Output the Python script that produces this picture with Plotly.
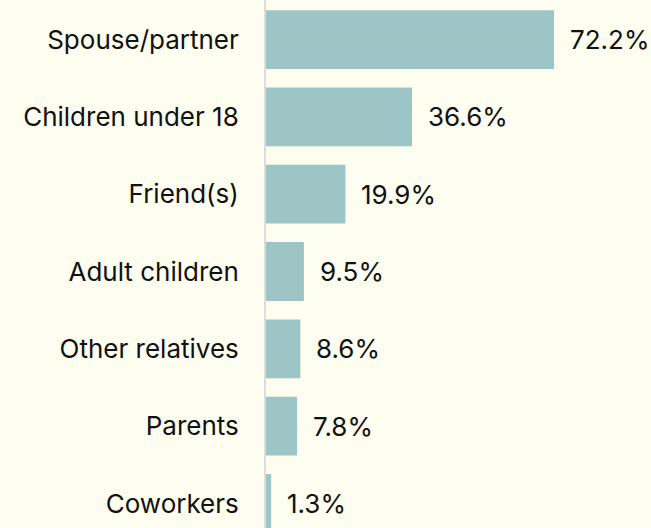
import plotly.graph_objects as go

categories = ["Spouse/partner", "Children under 18", "Friend(s)", "Adult children",
              "Other relatives", "Parents", "Coworkers"]
values = [72.2, 36.6, 19.9, 9.5, 8.6, 7.8, 1.3]
value_labels = [f"{v:.1f}%" for v in values]

BG = "#FDFEEF"
BAR = "#9EC5C5"
FONT = "Inter"
FS = 26

fig = go.Figure()
fig.add_trace(go.Bar(
    x=values, y=categories, orientation="h",
    marker=dict(color=BAR, line=dict(width=0)),
    width=0.76, hoverinfo="skip",
))
for c, v, t in zip(categories, values, value_labels):
    fig.add_annotation(x=v, y=c, text=t, showarrow=False, xanchor="left",
                       xshift=14, font=dict(family=FONT, size=FS, color="#111111"))

fig.update_layout(
    width=651, height=528,
    margin=dict(l=266, r=0, t=0, b=0),
    paper_bgcolor=BG, plot_bgcolor=BG,
    showlegend=False,
    font=dict(family=FONT, size=FS, color="#111111"),
    xaxis=dict(range=[0, 96.5], visible=False, fixedrange=True),
    yaxis=dict(type="category", categoryorder="array", categoryarray=categories,
               range=[6.317, -0.511], showline=True, linecolor="#DCDCDC", linewidth=2,
               ticks="", showgrid=False, ticklabelstandoff=20, fixedrange=True,
               tickfont=dict(family=FONT, size=FS, color="#111111")),
)
fig.write_html("out.html", config={"displayModeBar": False},
               post_script="document.body.style.margin='0';document.body.style.background='%s';" % BG)
